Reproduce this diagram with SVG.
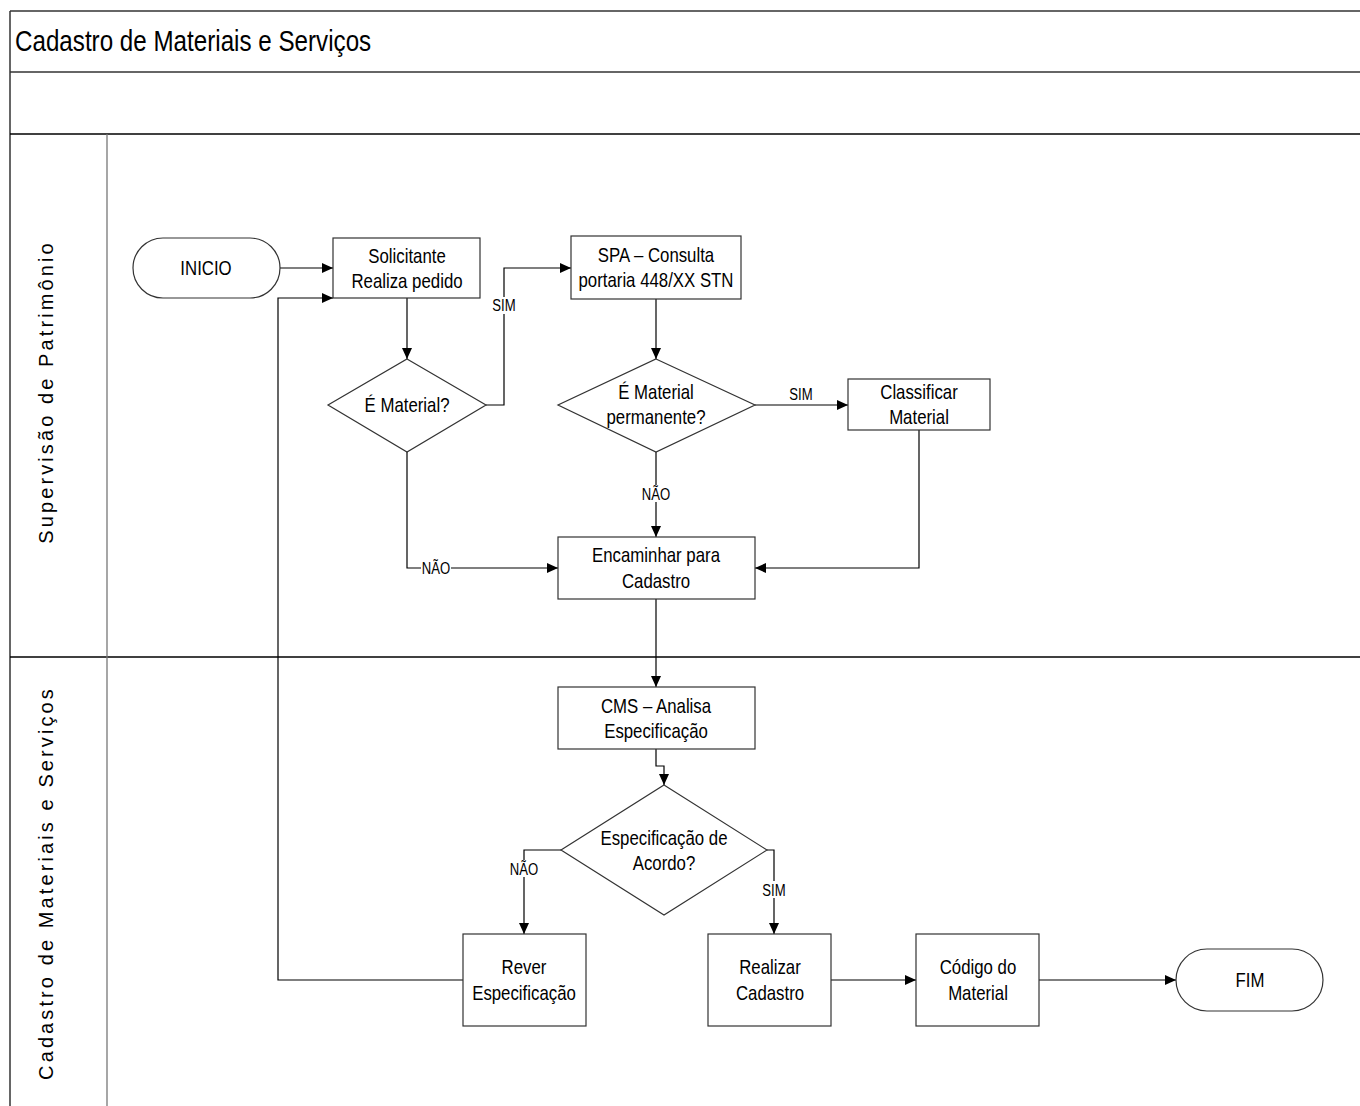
<svg xmlns="http://www.w3.org/2000/svg" width="1360" height="1106" viewBox="0 0 1360 1106">
<style>
.frame{stroke:#333;stroke-width:1.5;fill:none}
.lane{stroke:#000;stroke-width:1.3;fill:none}
.div{stroke:#777;stroke-width:1.3;fill:none}
.node{fill:#fff;stroke:#333;stroke-width:1.2}
.t{font-family:"Liberation Sans",Arial,sans-serif;font-size:20.5px;fill:#000;text-anchor:middle}
.title{font-family:"Liberation Sans",Arial,sans-serif;font-size:29.5px;fill:#000}
.lbl{font-family:"Liberation Sans",Arial,sans-serif;font-size:16px;fill:#000;text-anchor:middle}
.lanet{font-family:"Liberation Sans",Arial,sans-serif;font-size:20px;letter-spacing:3.1px;fill:#000;text-anchor:middle}
.c{stroke:#000;stroke-width:1.2;fill:none;marker-end:url(#ah)}
.bg{fill:#fff}
</style>
<defs>
<marker id="ah" viewBox="0 0 11 10" refX="11" refY="5" markerWidth="11" markerHeight="10" markerUnits="userSpaceOnUse" orient="auto">
<path d="M0,0 L11,5 L0,10 Z" fill="#000"/>
</marker>
</defs>
<rect width="1360" height="1106" fill="#fff"/>
<g id="pool">
<line class="frame" x1="10" y1="11" x2="1360" y2="11"/>
<line class="frame" x1="10" y1="11" x2="10" y2="1106"/>
<line class="frame" x1="10" y1="72" x2="1360" y2="72"/>
<line class="lane" x1="10" y1="134" x2="1360" y2="134"/>
<line class="lane" x1="10" y1="657" x2="1360" y2="657"/>
<line class="div" x1="107" y1="134" x2="107" y2="1106"/>
<text class="title" transform="translate(15,51) scale(0.82,1)">Cadastro de Materiais e Serviços</text>
<text class="lanet" transform="translate(53,392) rotate(-90)">Supervisão de Patrimônio</text>
<text class="lanet" transform="translate(53,883) rotate(-90)">Cadastro de Materiais e Serviços</text>
</g>
<g id="connectors">
<path class="c" d="M280,268 H333"/>
<path class="c" d="M463,980 H278 V298 H333"/>
<path class="c" d="M407,298 V359"/>
<path class="c" d="M486,405 H504 V268 H571"/>
<path class="c" d="M407,452 V568 H558"/>
<path class="c" d="M656,299 V359"/>
<path class="c" d="M755,405 H848"/>
<path class="c" d="M656,452 V537"/>
<path class="c" d="M919,430 V568 H755"/>
<path class="c" d="M656,599 V687"/>
<path class="c" d="M656,749 V766 H664 V785"/>
<path class="c" d="M561,850 H524 V934"/>
<path class="c" d="M767,850 H774 V934"/>
<path class="c" d="M831,980 H916"/>
<path class="c" d="M1039,980 H1176"/>
<rect class="bg" x="491" y="297" width="26" height="17"/>
<text class="lbl" transform="translate(504,311) scale(0.82,1)">SIM</text>
<rect class="bg" x="421" y="560" width="30" height="17"/>
<text class="lbl" transform="translate(436,574) scale(0.82,1)">NÃO</text>
<rect class="bg" x="788" y="386" width="26" height="17"/>
<text class="lbl" transform="translate(801,400) scale(0.82,1)">SIM</text>
<rect class="bg" x="641" y="485" width="30" height="17"/>
<text class="lbl" transform="translate(656,500) scale(0.82,1)">NÃO</text>
<rect class="bg" x="509" y="860" width="30" height="17"/>
<text class="lbl" transform="translate(524,875) scale(0.82,1)">NÃO</text>
<rect class="bg" x="761" y="881" width="26" height="17"/>
<text class="lbl" transform="translate(774,896) scale(0.82,1)">SIM</text>
</g>
<g id="inicio">
<rect class="node" x="133" y="238" width="147" height="60" rx="30"/>
<text class="t" transform="translate(206,275) scale(0.82,1)">INICIO</text>
</g>
<g id="solicitante">
<rect class="node" x="333" y="238" width="147" height="60"/>
<text class="t" transform="translate(407,263) scale(0.82,1)">Solicitante</text>
<text class="t" transform="translate(407,288) scale(0.82,1)">Realiza pedido</text>
</g>
<g id="e-material">
<polygon class="node" points="407,359 486,405 407,452 328,405"/>
<text class="t" transform="translate(407,412) scale(0.82,1)">É Material?</text>
</g>
<g id="spa">
<rect class="node" x="571" y="236" width="170" height="63"/>
<text class="t" transform="translate(656,262) scale(0.82,1)">SPA – Consulta</text>
<text class="t" transform="translate(656,287) scale(0.82,1)">portaria 448/XX STN</text>
</g>
<g id="e-material-permanente">
<polygon class="node" points="656,359 755,405 656,452 558,405"/>
<text class="t" transform="translate(656,399) scale(0.82,1)">É Material</text>
<text class="t" transform="translate(656,424) scale(0.82,1)">permanente?</text>
</g>
<g id="classificar">
<rect class="node" x="848" y="379" width="142" height="51"/>
<text class="t" transform="translate(919,399) scale(0.82,1)">Classificar</text>
<text class="t" transform="translate(919,424) scale(0.82,1)">Material</text>
</g>
<g id="encaminhar">
<rect class="node" x="558" y="537" width="197" height="62"/>
<text class="t" transform="translate(656,562) scale(0.82,1)">Encaminhar para</text>
<text class="t" transform="translate(656,588) scale(0.82,1)">Cadastro</text>
</g>
<g id="cms">
<rect class="node" x="558" y="687" width="197" height="62"/>
<text class="t" transform="translate(656,713) scale(0.82,1)">CMS – Analisa</text>
<text class="t" transform="translate(656,738) scale(0.82,1)">Especificação</text>
</g>
<g id="especificacao-acordo">
<polygon class="node" points="664,785 767,850 664,915 561,850"/>
<text class="t" transform="translate(664,845) scale(0.82,1)">Especificação de</text>
<text class="t" transform="translate(664,870) scale(0.82,1)">Acordo?</text>
</g>
<g id="rever">
<rect class="node" x="463" y="934" width="123" height="92"/>
<text class="t" transform="translate(524,974) scale(0.82,1)">Rever</text>
<text class="t" transform="translate(524,1000) scale(0.82,1)">Especificação</text>
</g>
<g id="realizar">
<rect class="node" x="708" y="934" width="123" height="92"/>
<text class="t" transform="translate(770,974) scale(0.82,1)">Realizar</text>
<text class="t" transform="translate(770,1000) scale(0.82,1)">Cadastro</text>
</g>
<g id="codigo">
<rect class="node" x="916" y="934" width="123" height="92"/>
<text class="t" transform="translate(978,974) scale(0.82,1)">Código do</text>
<text class="t" transform="translate(978,1000) scale(0.82,1)">Material</text>
</g>
<g id="fim">
<rect class="node" x="1176" y="949" width="147" height="62" rx="31"/>
<text class="t" transform="translate(1250,987) scale(0.82,1)">FIM</text>
</g>
</svg>
